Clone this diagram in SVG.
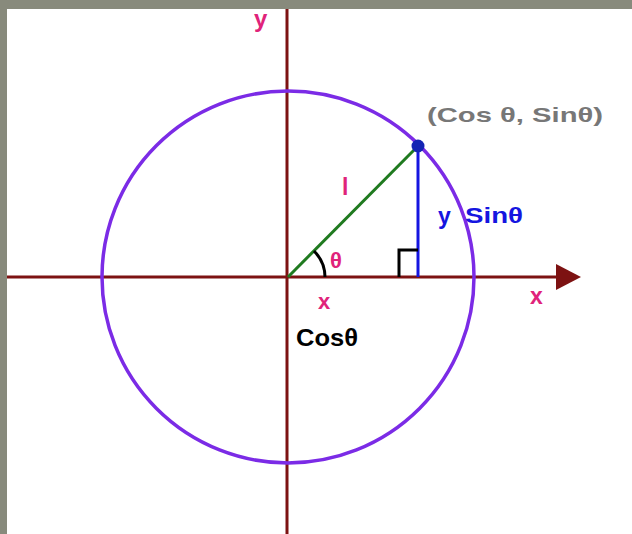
<svg xmlns="http://www.w3.org/2000/svg" width="632" height="534" viewBox="0 0 632 534">
<defs>
<style>
.lbl{font-family:"Liberation Sans","DejaVu Sans",Arial,sans-serif;font-weight:bold}
.pink{fill:#e0237a}
.axis{stroke:#7d1212;stroke-width:3;fill:none}
</style>
</defs>
<rect x="0" y="0" width="632" height="534" fill="#888a7c"/>
<rect x="7" y="9" width="625" height="525" fill="#ffffff"/>
<g id="connectors">
<line class="axis" x1="7" y1="277" x2="560" y2="277"/>
<path d="M556,264 L581,277 L556,290 Z" fill="#7d1212"/>
<line class="axis" x1="287" y1="9" x2="287" y2="534"/>
</g>
<g id="circle">
<circle cx="288" cy="277" r="186" fill="none" stroke="#7b2be6" stroke-width="3.5"/>
</g>
<g id="triangle">
<line x1="288" y1="277" x2="418" y2="146" stroke="#1f7a1f" stroke-width="3"/>
<line x1="418" y1="146" x2="418" y2="277" stroke="#1515e0" stroke-width="3"/>
<path d="M399,277 V250 H418" fill="none" stroke="#000" stroke-width="3"/>
<path d="M325,277 A37,37 0 0 0 314,251" fill="none" stroke="#000" stroke-width="3"/>
<circle cx="418" cy="146" r="6.5" fill="#1424b4"/>
</g>
<g id="labels">
<text class="lbl pink" x="254" y="27" font-size="24">y</text>
<text class="lbl pink" x="530" y="304" font-size="23">x</text>
<text class="lbl pink" x="318" y="309" font-size="22">x</text>
<text class="lbl" x="296" y="346" font-size="24" fill="#000" textLength="62" lengthAdjust="spacingAndGlyphs">Cosθ</text>
<text class="lbl pink" x="330" y="268" font-size="22">θ</text>
<text class="lbl pink" x="342" y="195" font-size="23">l</text>
<text class="lbl" x="438" y="224" font-size="23" fill="#1515e0">y</text>
<text class="lbl" x="465" y="223" font-size="22" fill="#1515e0" textLength="58" lengthAdjust="spacingAndGlyphs">Sinθ</text>
<text class="lbl" x="427" y="122" font-size="21" fill="#777777" textLength="176" lengthAdjust="spacingAndGlyphs">(Cos θ, Sinθ)</text>
</g>
</svg>
